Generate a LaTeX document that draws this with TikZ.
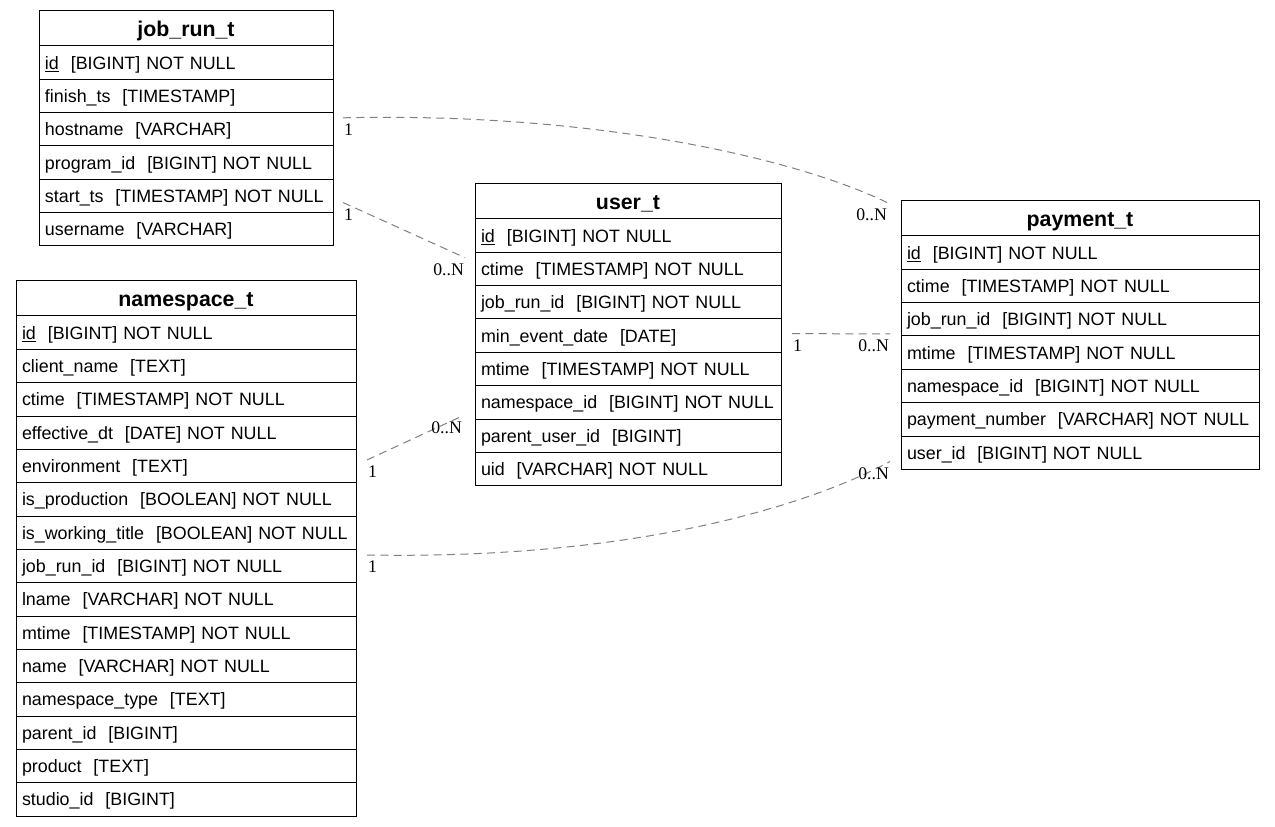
\documentclass[tikz,border=0pt]{standalone}
\usepackage{fontspec}
\setmainfont{Liberation Serif}
\setsansfont{Liberation Sans}
\usetikzlibrary{positioning}

\tikzset{
  tabhead/.style={draw, line width=0.75pt, outer sep=0pt, inner sep=4.5pt, minimum height=26.25pt,
    text width=#1, align=center, text height=11.5pt, text depth=0pt,
    font=\sffamily\bfseries\fontsize{16}{19}\selectfont},
  tabrow/.style={draw, line width=0.75pt, outer sep=0pt, inner sep=4.5pt, minimum height=25pt,
    text width=#1, align=left, text height=9.6pt, text depth=0pt,
    font=\sffamily\fontsize{13.4}{16}\selectfont},
  rel/.style={draw=gray, line width=0.75pt, dash pattern=on 6pt off 4pt},
  card/.style={inner xsep=0.5pt, inner ysep=4pt, font=\fontsize{13.3}{15}\selectfont}
}

\begin{document}
\begin{tikzpicture}[x=0.75pt, y=-0.75pt]
        \useasboundingbox (0,0) rectangle (1275,827);
        % tables
        \node[tabhead=211.5pt, anchor=north west] (job-0) at (39,11) {job\_run\_t};
        \foreach \txt [count=\i, remember=\i as \j (initially 0)] in
          {{\underline{id}\ \ [BIGINT] NOT NULL}, {finish\_ts\ \ [TIMESTAMP]}, {hostname\ \ [VARCHAR]},
           {program\_id\ \ [BIGINT] NOT NULL}, {start\_ts\ \ [TIMESTAMP] NOT NULL}, {username\ \ [VARCHAR]}}
          \node[tabrow=211.5pt, below=0pt of job-\j] (job-\i) {\mbox{\txt}};

        \node[tabhead=246pt, anchor=north west] (ns-0) at (16,281) {namespace\_t};
        \foreach \txt [count=\i, remember=\i as \j (initially 0)] in
          {{\underline{id}\ \ [BIGINT] NOT NULL}, {client\_name\ \ [TEXT]}, {ctime\ \ [TIMESTAMP] NOT NULL},
           {effective\_dt\ \ [DATE] NOT NULL}, {environment\ \ [TEXT]}, {is\_production\ \ [BOOLEAN] NOT NULL},
           {is\_working\_title\ \ [BOOLEAN] NOT NULL}, {job\_run\_id\ \ [BIGINT] NOT NULL},
           {lname\ \ [VARCHAR] NOT NULL}, {mtime\ \ [TIMESTAMP] NOT NULL}, {name\ \ [VARCHAR] NOT NULL},
           {namespace\_type\ \ [TEXT]}, {parent\_id\ \ [BIGINT]}, {product\ \ [TEXT]}, {studio\_id\ \ [BIGINT]}}
          \node[tabrow=246pt, below=0pt of ns-\j] (ns-\i) {\mbox{\txt}};

        \node[tabhead=220.5pt, anchor=north west] (user-0) at (475,184) {user\_t};
        \foreach \txt [count=\i, remember=\i as \j (initially 0)] in
          {{\underline{id}\ \ [BIGINT] NOT NULL}, {ctime\ \ [TIMESTAMP] NOT NULL}, {job\_run\_id\ \ [BIGINT] NOT NULL},
           {min\_event\_date\ \ [DATE]}, {mtime\ \ [TIMESTAMP] NOT NULL}, {namespace\_id\ \ [BIGINT] NOT NULL},
           {parent\_user\_id\ \ [BIGINT]}, {uid\ \ [VARCHAR] NOT NULL}}
          \node[tabrow=220.5pt, below=0pt of user-\j] (user-\i) {\mbox{\txt}};

        \node[tabhead=259.5pt, anchor=north west] (payment-0) at (901,201) {payment\_t};
        \foreach \txt [count=\i, remember=\i as \j (initially 0)] in
          {{\underline{id}\ \ [BIGINT] NOT NULL}, {ctime\ \ [TIMESTAMP] NOT NULL}, {job\_run\_id\ \ [BIGINT] NOT NULL},
           {mtime\ \ [TIMESTAMP] NOT NULL}, {namespace\_id\ \ [BIGINT] NOT NULL},
           {payment\_number\ \ [VARCHAR] NOT NULL}, {user\_id\ \ [BIGINT] NOT NULL}}
          \node[tabrow=259.5pt, below=0pt of payment-\j] (payment-\i) {\mbox{\txt}};

        % relations
        \draw[rel] ([shift={(10,-11.5)}]job-3.east) .. controls +(257,-6) and +(-88,-43) .. ([shift={(-13,-15.5)}]payment-0.west)
          node[card, pos=0, anchor=north west] (r1a) {1} node[card, pos=1, anchor=north east] (r1b) {0..N};
        \draw[rel] ([shift={(10,6.5)}]job-5.east) -- ([shift={(-10,-11.3)}]user-2.west)
          node[card, pos=0, anchor=north west] (r2a) {1} node[card, pos=1, anchor=north east] (r2b) {0..N};
        \draw[rel] ([shift={(11,-2)}]user-4.east) -- ([shift={(-11,-18.8)}]payment-4.west)
          node[card, pos=0, anchor=north west] (r3a) {1} node[card, pos=1, anchor=north east] (r3b) {0..N};
        \draw[rel] ([shift={(11,-6)}]ns-5.east) -- ([shift={(-12,13.3)}]user-6.west)
          node[card, pos=0, anchor=north west] (r4a) {1} node[card, pos=1, anchor=north east] (r4b) {0..N};
        \draw[rel] ([shift={(11,-11)}]ns-8.east) .. controls +(283,5) and +(-70,38) .. ([shift={(-11,8.9)}]payment-7.west)
          node[card, pos=0, anchor=north west] (r5a) {1} node[card, pos=1, anchor=north east] (r5b) {0..N};
\end{tikzpicture}
\end{document}
